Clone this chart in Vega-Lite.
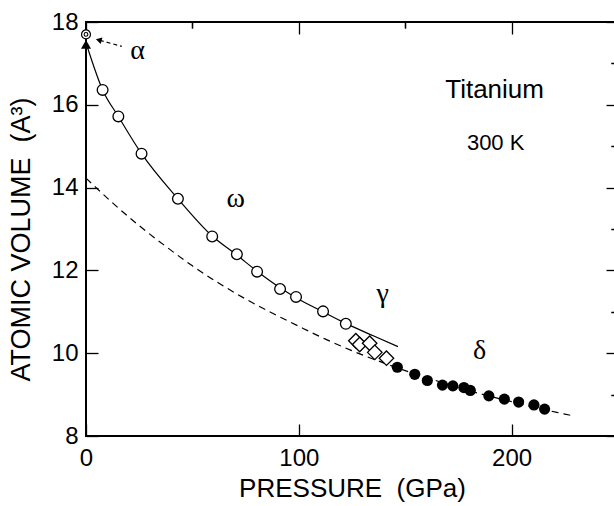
{
  "$schema": "https://vega.github.io/schema/vega-lite/v6.json",
  "width": 532,
  "height": 414,
  "autosize": {"type": "none"},
  "padding": {"left": 86, "top": 22, "right": 0, "bottom": 70},
  "background": "white",
  "config": {
    "view": {"stroke": "black", "strokeWidth": 2},
    "axis": {
      "grid": false, "domain": false, "tickColor": "black", "tickWidth": 1.3,
      "labelColor": "black", "titleColor": "black",
      "labelFont": "Liberation Sans", "titleFont": "Liberation Sans",
      "labelFontSize": 24, "titleFontSize": 24, "titleFontWeight": "normal",
      "labelFlush": false, "labelOverlap": false
    }
  },
  "datasets": {
    "eos": [
      {"P": 0, "V": 14.23}, {"P": 12.5, "V": 13.63}, {"P": 25, "V": 13.08}, {"P": 37.5, "V": 12.58},
      {"P": 50, "V": 12.11}, {"P": 62.5, "V": 11.69}, {"P": 75, "V": 11.31}, {"P": 87.5, "V": 10.97},
      {"P": 100, "V": 10.65}, {"P": 112.5, "V": 10.34}, {"P": 125, "V": 10.06}, {"P": 137.5, "V": 9.81},
      {"P": 150, "V": 9.58}, {"P": 162.5, "V": 9.37}, {"P": 175, "V": 9.17}, {"P": 187.5, "V": 8.99},
      {"P": 200, "V": 8.83}, {"P": 212.5, "V": 8.67}, {"P": 225, "V": 8.53}, {"P": 228.6, "V": 8.49}
    ],
    "fit": [
      {"P": 0.3, "V": 17.45}, {"P": 7.8, "V": 16.36}, {"P": 15.2, "V": 15.72}, {"P": 26.1, "V": 14.82},
      {"P": 43.2, "V": 13.73}, {"P": 59.3, "V": 12.83}, {"P": 70.9, "V": 12.37}, {"P": 80.4, "V": 11.98},
      {"P": 91.2, "V": 11.58}, {"P": 98.7, "V": 11.34}, {"P": 111.4, "V": 11.0}, {"P": 122.1, "V": 10.72},
      {"P": 135, "V": 10.42}, {"P": 146.6, "V": 10.16}
    ],
    "omega": [
      {"P": 7.8, "V": 16.36}, {"P": 15.2, "V": 15.72}, {"P": 26.1, "V": 14.82}, {"P": 43.2, "V": 13.73},
      {"P": 59.3, "V": 12.82}, {"P": 70.9, "V": 12.39}, {"P": 80.4, "V": 11.97}, {"P": 91.2, "V": 11.55},
      {"P": 98.7, "V": 11.36}, {"P": 111.4, "V": 11.01}, {"P": 122.1, "V": 10.71}
    ],
    "gamma": [
      {"P": 126.8, "V": 10.3}, {"P": 128.6, "V": 10.21}, {"P": 133.3, "V": 10.24},
      {"P": 135.7, "V": 10.02}, {"P": 141.2, "V": 9.88}
    ],
    "delta": [
      {"P": 146.3, "V": 9.66}, {"P": 154.5, "V": 9.49}, {"P": 160.4, "V": 9.34}, {"P": 167.5, "V": 9.23},
      {"P": 172.4, "V": 9.21}, {"P": 177.6, "V": 9.17}, {"P": 180.6, "V": 9.1}, {"P": 189.3, "V": 8.97},
      {"P": 196.6, "V": 8.89}, {"P": 203.3, "V": 8.82}, {"P": 210.5, "V": 8.75}, {"P": 215.5, "V": 8.65}
    ],
    "alpha": [{"P": 0, "V": 17.7}],
    "tri": [{"P": 0, "V": 17.46}],
    "arrow": [{"P": 16.8, "V": 17.41}, {"P": 6.5, "V": 17.56}],
    "head": [{"P": 6.0, "V": 17.565}],
    "greek": [
      {"P": 24.2, "V": 17.11, "t": "α"}, {"P": 70.3, "V": 13.54, "t": "ω"},
      {"P": 139.4, "V": 11.24, "t": "γ"}, {"P": 185, "V": 9.85, "t": "δ"}
    ],
    "title1": [{"P": 192, "V": 16.16, "t": "Titanium"}],
    "title2": [{"P": 192.5, "V": 14.9, "t": "300 K"}]
  },
  "layer": [
    {
      "data": {"name": "eos"},
      "mark": {"type": "line", "color": "black", "strokeWidth": 1.2, "strokeDash": [7, 5], "interpolate": "monotone"},
      "encoding": {
        "x": {"field": "P", "type": "quantitative", "scale": {"domain": [0, 250], "nice": false, "zero": false},
          "axis": {"values": [0, 100, 200], "tickSize": -12, "labelPadding": 22, "title": "PRESSURE \u00a0(GPa)", "titleFontSize": 26, "titlePadding": 5}},
        "y": {"field": "V", "type": "quantitative", "scale": {"domain": [8, 18], "nice": false, "zero": false},
          "axis": {"values": [8, 10, 12, 14, 16, 18], "tickSize": -12, "labelPadding": 20, "title": "ATOMIC VOLUME \u00a0(A³)", "titleFontSize": 27, "titlePadding": 16, "titleY": 217}}
      }
    },
    {
      "data": {"name": "fit"},
      "mark": {"type": "line", "color": "black", "strokeWidth": 1.2, "interpolate": "monotone"},
      "encoding": {
        "x": {"field": "P", "type": "quantitative", "axis": {"values": [50, 150, 250], "tickSize": -6, "labels": false, "title": null}},
        "y": {"field": "V", "type": "quantitative", "axis": {"values": [9, 11, 13, 15, 17], "tickSize": -7, "labels": false, "title": null}}
      }
    },
    {
      "data": {"name": "omega"},
      "mark": {"type": "point", "shape": "circle", "filled": false, "fill": "white", "fillOpacity": 1, "stroke": "black", "strokeWidth": 1.3, "size": 115, "opacity": 1},
      "encoding": {
        "x": {"field": "P", "type": "quantitative", "axis": {"orient": "top", "values": [0, 100, 200], "tickSize": -12, "labels": false, "title": null}},
        "y": {"field": "V", "type": "quantitative", "axis": {"orient": "right", "values": [8, 10, 12, 14, 16, 18], "tickSize": -12, "labels": false, "title": null}}
      }
    },
    {
      "data": {"name": "gamma"},
      "mark": {"type": "point", "shape": "diamond", "filled": false, "fill": "white", "fillOpacity": 1, "stroke": "black", "strokeWidth": 1.3, "size": 210, "opacity": 1},
      "encoding": {
        "x": {"field": "P", "type": "quantitative", "axis": {"orient": "top", "values": [50, 150, 250], "tickSize": -6, "labels": false, "title": null}},
        "y": {"field": "V", "type": "quantitative", "axis": {"orient": "right", "values": [9, 11, 13, 15, 17], "tickSize": -7, "labels": false, "title": null}}
      }
    },
    {
      "data": {"name": "delta"},
      "mark": {"type": "point", "shape": "circle", "filled": true, "color": "black", "size": 125, "opacity": 1},
      "encoding": {
        "x": {"field": "P", "type": "quantitative", "axis": null},
        "y": {"field": "V", "type": "quantitative", "axis": null}
      }
    },
    {
      "data": {"name": "arrow"},
      "mark": {"type": "line", "color": "black", "strokeWidth": 1.2, "strokeDash": [4, 3]},
      "encoding": {
        "x": {"field": "P", "type": "quantitative", "axis": null},
        "y": {"field": "V", "type": "quantitative", "axis": null}
      }
    },
    {
      "data": {"name": "head"},
      "mark": {"type": "point", "shape": "triangle-up", "filled": true, "color": "black", "size": 45, "angle": 285, "opacity": 1},
      "encoding": {
        "x": {"field": "P", "type": "quantitative", "axis": null},
        "y": {"field": "V", "type": "quantitative", "axis": null}
      }
    },
    {
      "data": {"name": "tri"},
      "mark": {"type": "point", "shape": "triangle-up", "filled": true, "color": "black", "size": 100, "opacity": 1},
      "encoding": {
        "x": {"field": "P", "type": "quantitative", "axis": null},
        "y": {"field": "V", "type": "quantitative", "axis": null}
      }
    },
    {
      "data": {"name": "alpha"},
      "mark": {"type": "point", "shape": "circle", "filled": false, "fill": "white", "fillOpacity": 1, "stroke": "black", "strokeWidth": 1.2, "size": 80, "opacity": 1},
      "encoding": {
        "x": {"field": "P", "type": "quantitative", "axis": null},
        "y": {"field": "V", "type": "quantitative", "axis": null}
      }
    },
    {
      "data": {"name": "alpha"},
      "mark": {"type": "point", "shape": "circle", "filled": false, "stroke": "black", "strokeWidth": 1.1, "size": 14, "opacity": 1},
      "encoding": {
        "x": {"field": "P", "type": "quantitative", "axis": null},
        "y": {"field": "V", "type": "quantitative", "axis": null}
      }
    },
    {
      "data": {"name": "greek"},
      "mark": {"type": "text", "font": "Liberation Serif", "fontSize": 28, "align": "center", "baseline": "alphabetic", "color": "black"},
      "encoding": {
        "x": {"field": "P", "type": "quantitative", "axis": null},
        "y": {"field": "V", "type": "quantitative", "axis": null},
        "text": {"field": "t"}
      }
    },
    {
      "data": {"name": "title1"},
      "mark": {"type": "text", "font": "Liberation Sans", "fontSize": 26, "align": "center", "baseline": "alphabetic", "color": "black"},
      "encoding": {
        "x": {"field": "P", "type": "quantitative", "axis": null},
        "y": {"field": "V", "type": "quantitative", "axis": null},
        "text": {"field": "t"}
      }
    },
    {
      "data": {"name": "title2"},
      "mark": {"type": "text", "font": "Liberation Sans", "fontSize": 22, "align": "center", "baseline": "alphabetic", "color": "black"},
      "encoding": {
        "x": {"field": "P", "type": "quantitative", "axis": null},
        "y": {"field": "V", "type": "quantitative", "axis": null},
        "text": {"field": "t"}
      }
    }
  ],
  "resolve": {"axis": {"x": "independent", "y": "independent"}}
}
